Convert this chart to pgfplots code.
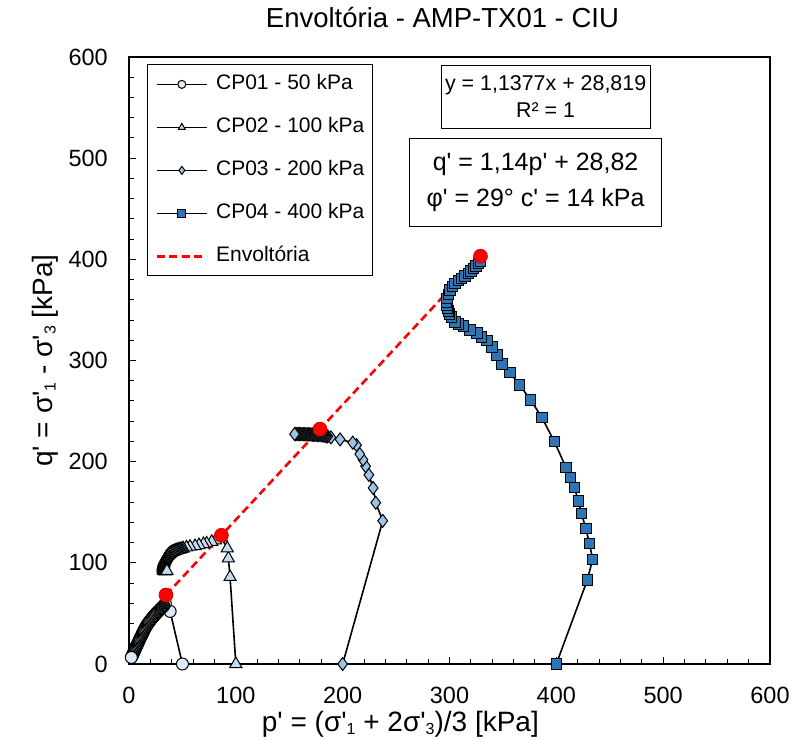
\documentclass[border=0pt]{standalone}
\usepackage{fontspec}
\setmainfont{Liberation Sans}[Ligatures=TeXOff]
\usepackage{pgfplots}
\pgfplotsset{compat=1.18}

\definecolor{cpA}{HTML}{DEEBF7}
\definecolor{cpB}{HTML}{C5DCF0}
\definecolor{cpC}{HTML}{9DC3E6}
\definecolor{cpD}{HTML}{2E75B6}

% subscript at a size proportional to the axis-title font
\newcommand{\sub}[1]{\raisebox{-3.5bp}{\fontsize{16bp}{16bp}\selectfont #1}}

\begin{document}
\begin{tikzpicture}
\useasboundingbox (-129bp,-76bp) rectangle (666bp,664bp);
\begin{axis}[
  at={(0,0)}, anchor=south west,
  scale only axis,
  width=641bp, height=607bp,
  xmin=0, xmax=600, ymin=0, ymax=600,
  xtick distance=100, ytick distance=100,
  minor tick num=4,
  tick align=inside,
  xtick pos=bottom, ytick pos=left,
  major tick length=7bp, minor tick length=5bp,
  every tick/.style={black, line width=1bp},
  axis line style={line width=1.7bp},
  /pgf/number format/assume math mode=true,
  tick label style={font=\fontsize{23.5bp}{28bp}\selectfont, inner sep=0pt},
  xticklabel style={anchor=base, yshift=-39bp},
  yticklabel style={anchor=east, xshift=-21bp},
  title={Envoltória - AMP-TX01 - CIU},
  title style={font=\fontsize{27.5bp}{32bp}\selectfont, at={(0.489,1)}, anchor=base, inner sep=0pt, yshift=24bp},
  xlabel={p' = (σ'\sub{1} + 2σ'\sub{3})/3 [kPa]},
  xlabel style={font=\fontsize{28bp}{32bp}\selectfont, at={(axis description cs:0.207,0)}, anchor=base west, inner sep=0pt, yshift=-67bp},
  ylabel={q' = σ'\sub{1} - σ'\sub{3} [kPa]},
  ylabel style={font=\fontsize{28bp}{32bp}\selectfont, at={(axis description cs:-0.12,0.5)}, anchor=base, inner sep=0pt},
  legend cell align=left,
  legend image code/.code={%
    \draw[mark repeat=2, mark phase=2, #1] plot coordinates {(0bp,0bp) (25bp,0bp) (50bp,0bp)};},
  legend image post style={mark size=4bp},
  legend style={at={(0.028,0.988)}, anchor=north west, draw=black, line width=1.2bp,
    font=\fontsize{21bp}{25bp}\selectfont, inner xsep=8bp, inner ysep=10bp, row sep=24bp,
    column sep=8bp,
    nodes={inner sep=0pt, text height=15bp, text depth=4bp}},
]

% CP01 - 50 kPa
\addplot[black, line width=1.6bp, mark=*, mark size=6bp,
  mark options={fill=cpA, draw=black, line width=1bp}] coordinates {
  (50,0) (38.5,52) (34,60) (32.5,57.5) (31.8,56.8) (31,56) (30.3,55.2) (29.6,54.5)
  (28.9,53.7) (28.2,53) (27.5,52.2) (26.8,51.5) (26.1,50.7) (25.4,50) (24.7,49.1)
  (24,48.3) (23.3,47.4) (22.6,46.5) (21.9,45.7) (21.2,44.8) (20.5,43.8) (19.8,42.9)
  (19.1,41.9) (18.4,40.9) (17.7,39.9) (17.1,38.9) (16.4,37.8) (15.8,36.7)
  (15.2,35.6) (14.6,34.5) (14.1,33.4) (13.6,32.3) (13.1,31.2) (12.6,30.1)
  (12.1,29) (11.6,27.9) (11.1,26.8) (10.6,25.7) (10.1,24.6) (9.6,23.5) (9.2,22.4)
  (8.7,21.3) (8.2,20.2) (7.7,19.1) (7.3,18) (6.8,16.9) (6.3,15.8) (5.8,14.7)
  (5.4,13.6) (4.9,12.5) (4.4,11.4) (4,10.3) (3.5,9.2) (3,8.1) (2.5,7.1) (2.2,6.5)
};
\addlegendentry{CP01 - 50 kPa}

% CP02 - 100 kPa
\addplot[black, line width=1.6bp, mark=triangle*, mark size=7bp,
  mark options={fill=cpB, draw=black, line width=1bp}] coordinates {
  (100,0) (94.6,86) (93,104.4) (92,114.3) (86.5,125) (81,122.3) (77.4,120.8)
  (72.7,119.2) (69.6,118.6) (65.5,117.6) (61.8,116.6) (57.1,116) (53.8,115.2)
  (50.8,114.3) (49.7,114) (48.6,113.6) (47.6,113.3) (46.6,113) (45.6,112.7)
  (44.6,112.4) (43.6,112) (42.6,111.6) (41.6,111.2) (40.6,110.8) (39.7,110.2)
  (38.8,109.6) (38,108.9) (37.2,108.2) (36.5,107.4) (35.8,106.6) (35.2,105.7)
  (34.6,104.8) (34.1,103.8) (33.6,102.8) (33.2,101.7) (32.8,100.6) (32.5,99.5)
  (32.3,98.4) (32.1,97.3) (32,96.2) (32,95.2) (32,94.2) (32.2,93.3) (32.4,92.4)
  (33,92) (33.6,91.6) (34.5,91.8) (35.5,92)
};
\addlegendentry{CP02 - 100 kPa}

% CP03 - 200 kPa
\addplot[black, line width=1.6bp, mark=diamond*, mark size=6.5bp,
  mark options={fill=cpC, draw=black, line width=1bp}] coordinates {
  (200,0) (237.5,141.5) (231,159.4) (228.5,174) (224.5,187) (221.5,195.5)
  (219,202) (216,207.5) (213,216.4) (209.4,218.8) (197.6,222) (189,224)
  (186,225) (184.8,225.2) (183.6,225.5) (182.4,225.8) (181.2,226) (180,226.2)
  (178.8,226.3) (177.6,226.4) (176.4,226.5) (175.2,226.6) (174,226.6) (172.8,226.7)
  (171.6,226.8) (170.4,226.9) (169.2,227) (168,227) (166.8,227) (165.6,227.1)
  (164.4,227.1) (163.2,227.2) (162,227.2) (160.8,227.2) (159.6,227.3)
  (158.4,227.3) (157.2,227.3) (156,227.3) (155,227.3)
};
\addlegendentry{CP03 - 200 kPa}

% CP04 - 400 kPa
\addplot[black, line width=1.6bp, mark=square*, mark size=5.2bp,
  mark options={fill=cpD, draw=black, line width=1bp}] coordinates {
  (400,0) (429,83) (434,103.5) (431,119) (427.6,134) (423.5,149) (420.5,161)
  (417,174.6) (413,184.5) (409,194.4) (398.2,219.7) (386.4,243.8) (376,261)
  (365.5,275.7) (356.7,288) (349,296.5) (344.3,305.3) (339.6,313.5) (335,320)
  (330.2,323.4) (325.6,327) (319.3,330) (313,334) (308.5,336.2) (305.2,338.2)
  (302,343) (300.2,346) (299,349) (298,352) (297.5,355) (297.4,358) (297.6,361.3)
  (298.8,365.5) (300.6,369.6) (302.8,373) (305.2,376.2) (308.3,378.8) (311.5,381)
  (314.6,383.5) (317.7,386) (320,388.5) (322.4,391) (324.7,393.5) (327,396)
  (328.8,398.5)
};
\addlegendentry{CP04 - 400 kPa}

% failure envelope q' = 1.1377 p' + 28.819
\addplot[red, dashed, line width=2.6bp, dash pattern=on 8bp off 4.5bp] coordinates {
  (34.6,68.2) (86.5,127.2) (178.8,232.2) (329,403.1)
};
\addlegendentry{Envoltória}

% peak points on the envelope
\addplot[only marks, mark=*, mark size=7bp, mark options={fill=red, draw=red!80!black, line width=0.6bp},
  forget plot] coordinates {
  (34.6,68.2) (86.5,127.2) (178.8,232.2) (329,403.1)
};

\node[draw=black, line width=1.2bp, align=center, minimum width=209bp, minimum height=63bp,
  inner sep=0pt, font=\fontsize{21.4bp}{27bp}\selectfont] at (axis cs:390,560.6)
  {y = 1,1377x + 28,819\\R² = 1};
\node[draw=black, line width=1.2bp, align=center, minimum width=252bp, minimum height=88bp,
  inner sep=0pt, font=\fontsize{25bp}{36bp}\selectfont] at (axis cs:380.6,475.8)
  {q' = 1,14p' + 28,82\\φ' = 29° c' = 14 kPa};
\end{axis}
\end{tikzpicture}
\end{document}
